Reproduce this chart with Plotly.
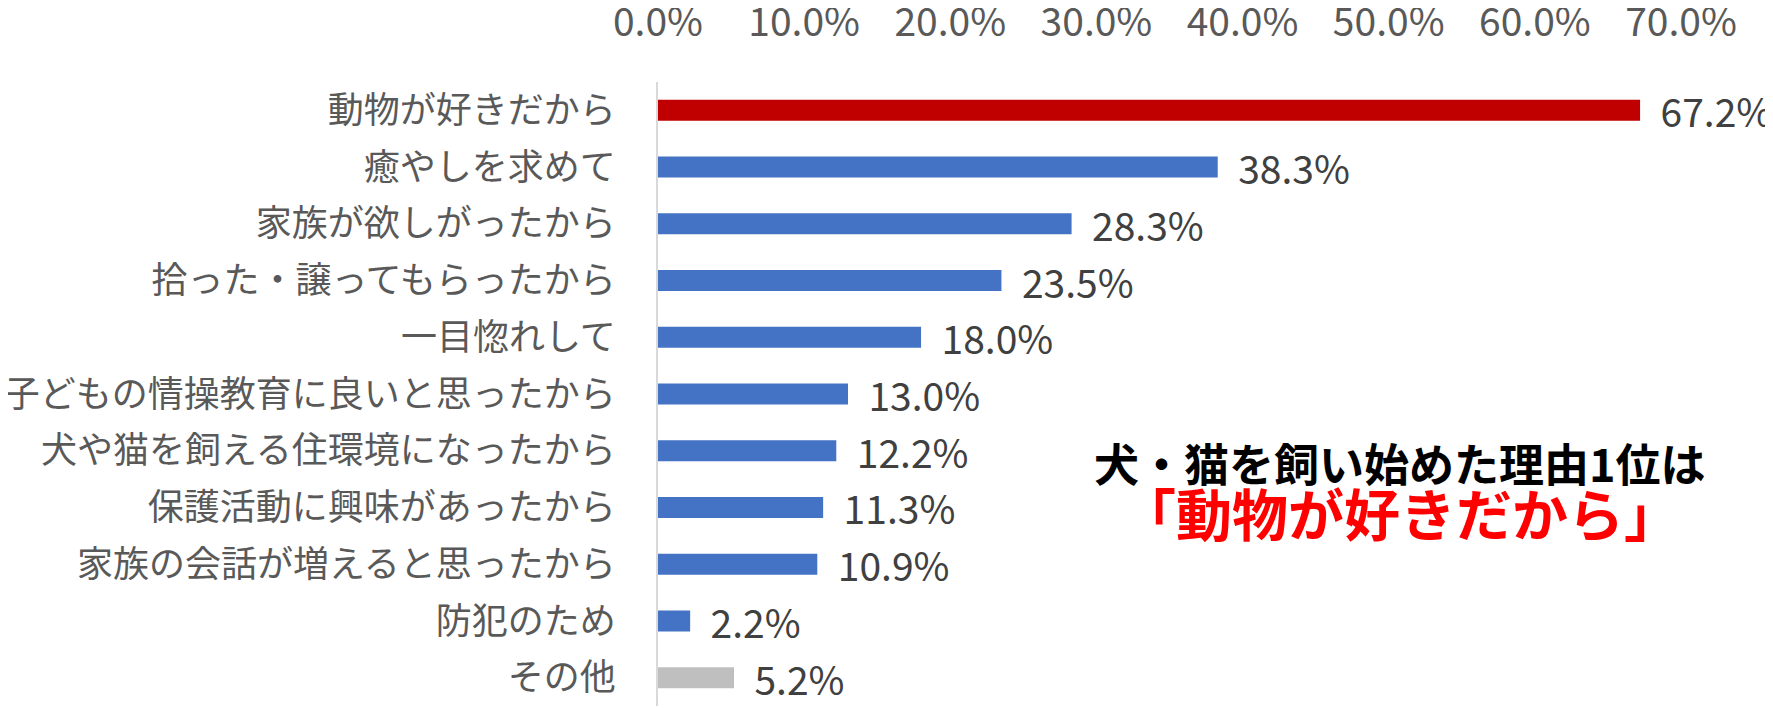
import plotly.graph_objects as go

# reasons for starting to keep a dog / cat (top to bottom)
categories = [
    "動物が好きだから",
    "癒やしを求めて",
    "家族が欲しがったから",
    "拾った・譲ってもらったから",
    "一目惚れして",
    "子どもの情操教育に良いと思ったから",
    "犬や猫を飼える住環境になったから",
    "保護活動に興味があったから",
    "家族の会話が増えると思ったから",
    "防犯のため",
    "その他",
]
values = [67.2, 38.3, 28.3, 23.5, 18.0, 13.0, 12.2, 11.3, 10.9, 2.2, 5.2]
tick_values = [0, 10, 20, 30, 40, 50, 60, 70]
tick_labels = ["0.0%", "10.0%", "20.0%", "30.0%", "40.0%", "50.0%", "60.0%", "70.0%"]

# first bar highlighted, "その他" in grey
bar_colors = ["#C00000"] + ["#4472C4"] * 9 + ["#BFBFBF"]

FONT = "Noto Sans CJK JP"

fig = go.Figure()
fig.add_trace(
    go.Bar(
        x=values,
        y=categories,
        orientation="h",
        marker_color=bar_colors,
        marker_line_width=0,
        width=0.37,
        text=["\u00a0\u00a0" + f"{v:.1f}%" for v in values],
        textposition="outside",
        constraintext="none",
        cliponaxis=False,
        textfont=dict(family=FONT, size=39, color="#404040"),
    )
)

fig.update_layout(
    width=1773,
    height=708,
    margin=dict(l=650, r=100, t=74, b=10),
    plot_bgcolor="white",
    paper_bgcolor="white",
    showlegend=False,
    xaxis=dict(
        side="top",
        range=[0, 70],
        tickvals=tick_values,
        ticktext=tick_labels,
        showgrid=False,
        zeroline=False,
        showline=False,
        ticks="",
        automargin=False,
        ticklabelstandoff=37,
        tickfont=dict(family=FONT, size=39, color="#595959"),
    ),
    yaxis=dict(
        autorange="reversed",
        showgrid=False,
        zeroline=False,
        showline=True,
        linecolor="#D9D9D9",
        linewidth=2,
        ticks="",
        automargin=False,
        ticklabelstandoff=33,
        tickfont=dict(family=FONT, size=36, color="#595959"),
    ),
)

# callout text
fig.add_annotation(
    x=0.725, y=0.391, xref="paper", yref="paper",
    xanchor="center", yanchor="middle",
    text="<b>犬・猫を飼い始めた理由1位は</b>",
    showarrow=False,
    font=dict(family=FONT, size=45, color="black"),
)
fig.add_annotation(
    x=0.725, y=0.311, xref="paper", yref="paper",
    xanchor="center", yanchor="middle",
    text="<b>「動物が好きだから」</b>",
    showarrow=False,
    font=dict(family=FONT, size=56, color="#FF0000"),
)

fig.write_html("out.html")
